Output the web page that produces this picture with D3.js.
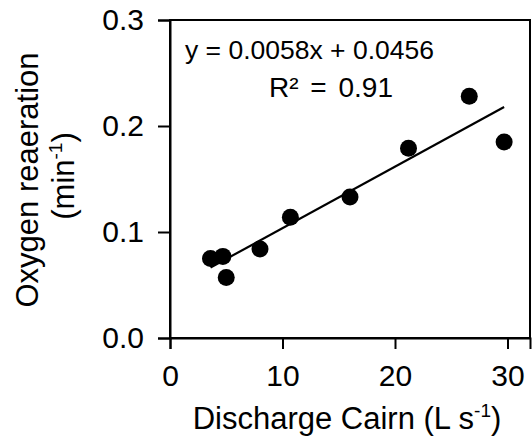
<!DOCTYPE html>
<html>
<head>
<meta charset="utf-8">
<script src="https://cdn.jsdelivr.net/npm/d3@7"></script>
<style>
  body { margin: 0; background: #fff; }
  text { font-family: Arial, "Liberation Sans", sans-serif; fill: #000; }
</style>
</head>
<body>
<svg id="chart" width="532" height="443"></svg>
<script>
// discharge (L/s) and reaeration (1/min)
const discharge = [3.6, 4.7, 5.0, 8.0, 10.7, 16.0, 21.2, 26.6, 29.7];
const reaeration = [0.075, 0.077, 0.057, 0.084, 0.114, 0.133, 0.179, 0.228, 0.185];
const xTicks = [0, 10, 20, 30];
const yTicks = [0, 0.1, 0.2, 0.3];
const slope = 0.0058, intercept = 0.0456;

const svg = d3.select("#chart");
const plotL = 170, plotR = 530, plotT = 20, plotB = 338;

const x = d3.scaleLinear().domain([0, 32]).range([plotL, plotR]);
const y = d3.scaleLinear().domain([0, 0.3]).range([plotB, plotT]);

// frame
svg.append("rect")
    .attr("x", plotL).attr("y", plotT)
    .attr("width", plotR - plotL).attr("height", plotB - plotT)
    .attr("fill", "none").attr("stroke", "#000").attr("stroke-width", 2);

const xAxis = svg.append("g")
    .attr("transform", `translate(0,${plotB})`)
    .call(d3.axisBottom(x).tickValues(xTicks).tickSize(11).tickPadding(16).tickFormat(d3.format("d")));

const yAxis = svg.append("g")
    .attr("transform", `translate(${plotL},0)`)
    .call(d3.axisLeft(y).tickValues(yTicks).tickSize(12).tickPadding(14).tickFormat(d3.format(".1f")));

[xAxis, yAxis].forEach(g => {
    g.select(".domain").attr("stroke-width", 2);
    g.selectAll(".tick line").attr("stroke-width", 2);
    g.selectAll(".tick text").style("font-size", "30px").attr("fill", "#000");
});

// trendline across the data range
const [x0, x1] = d3.extent(discharge);
const line = d3.line().x(d => x(d)).y(d => y(slope * d + intercept));
svg.append("path")
    .attr("d", line([x0, x1]))
    .attr("stroke", "#000").attr("stroke-width", 2.2).attr("fill", "none");

svg.selectAll(".pt")
    .data(discharge)
    .enter()
    .append("circle")
    .attr("class", "pt")
    .attr("cx", d => x(d))
    .attr("cy", (d, i) => y(reaeration[i]))
    .attr("r", 8.5)
    .attr("fill", "#000");

// equation label
svg.append("text").attr("x", 185).attr("y", 59)
    .style("font-size", "26.5px")
    .text("y = 0.0058x + 0.0456");
svg.append("text").attr("x", 269).attr("y", 97)
    .style("font-size", "28px")
    .style("word-spacing", "4px")
    .text("R² = 0.91");

// axis titles
const xt = svg.append("text")
    .attr("x", 347).attr("y", 429)
    .attr("text-anchor", "middle")
    .style("font-size", "31px");
xt.append("tspan").text("Discharge Cairn (L s");
xt.append("tspan").attr("dy", -12).style("font-size", "19px").text("-1");
xt.append("tspan").attr("dy", 12).text(")");

const yt = svg.append("text")
    .attr("transform", `translate(0,180) rotate(-90)`)
    .attr("text-anchor", "middle")
    .style("font-size", "31px");
yt.append("tspan").attr("x", 0).attr("y", 38).text("Oxygen reaeration");
const yt2 = svg.append("text")
    .attr("transform", `translate(0,176) rotate(-90)`)
    .attr("text-anchor", "middle")
    .style("font-size", "31px");
yt2.append("tspan").attr("x", 0).attr("y", 74).text("(min");
yt2.append("tspan").attr("dy", -12).style("font-size", "19px").text("-1");
yt2.append("tspan").attr("dy", 12).text(")");
</script>
</body>
</html>
